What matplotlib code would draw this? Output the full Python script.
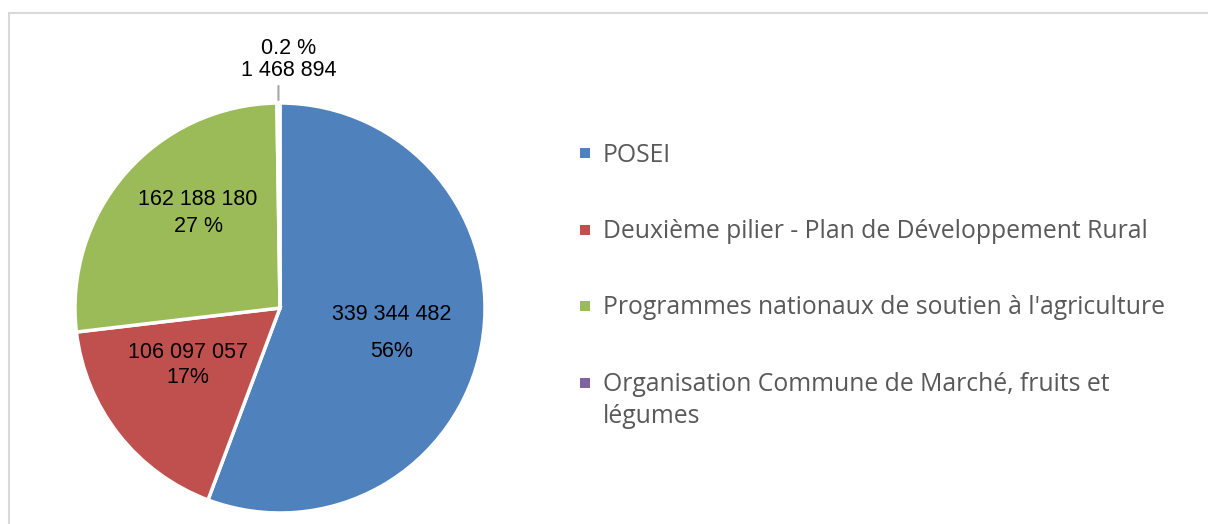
import matplotlib
matplotlib.use("Agg")
import matplotlib.pyplot as plt
from matplotlib.patches import Rectangle
import numpy as np

# ---- data ----
categories = [
    "POSEI",
    "Deuxième pilier - Plan de Développement Rural",
    "Programmes nationaux de soutien à l'agriculture",
    "Organisation Commune de Marché, fruits et\nlégumes",
]
values = [339344482, 106097057, 162188180, 1468894]
pct_labels = ["56%", "17%", "27 %", "0.2 %"]
colors = ["#4F81BD", "#C0504D", "#9BBB59", "#8064A2"]

W, H = 1208, 524
DPI = 100
fig = plt.figure(figsize=(W / DPI, H / DPI), dpi=DPI)

def fx(px):
    return px / W

def fy(py):
    return 1 - py / H

# border of chart area
fig.patches.append(Rectangle((fx(9), fy(560)), 1.2, fy(13) - fy(560), transform=fig.transFigure,
                             fill=False, edgecolor="#D9D9D9", linewidth=1.5))

# pie axes
cx, cy, R = 280, 308, 205
ax = fig.add_axes([fx(cx - R), fy(cy + R), 2 * R / W, 2 * R / H])
wedges, _ = ax.pie(values, colors=colors, startangle=90, counterclock=False,
                   radius=1, wedgeprops=dict(edgecolor="white", linewidth=2.5))
ax.set_xlim(-1, 1)
ax.set_ylim(-1, 1)
ax.set_aspect("equal")
ax.axis("off")

def fmt_num(v):
    return f"{v:,}".replace(",", " ")

label_font = dict(family=["Liberation Sans", "DejaVu Sans"], fontsize=15.5, color="black")
label_r = [0.56, 0.528, 0.612]
label_dang = [-2.3, -6.2, -8.0]
label_ls = [2.0, 1.25, 1.4]
for i in range(3):
    w = wedges[i]
    ang = np.deg2rad((w.theta1 + w.theta2) / 2 + label_dang[i])
    x, y = label_r[i] * np.cos(ang), label_r[i] * np.sin(ang)
    txt = fmt_num(values[i]) + "\n" + pct_labels[i]
    ax.text(x, y, txt, ha="center", va="center", linespacing=label_ls[i], **label_font)

# small slice: outside label with leader line
w = wedges[3]
ang = np.deg2rad((w.theta1 + w.theta2) / 2)
px = np.cos(ang)
ax.annotate("", xy=(px, 1.015), xytext=(px, 1.083),
            arrowprops=dict(arrowstyle="-", color="#A6A6A6", lw=1.5, shrinkA=0, shrinkB=0),
            annotation_clip=False)
ax.text(px + 10 / R, 1.105, pct_labels[3] + "\n" + fmt_num(values[3]),
        ha="center", va="bottom", linespacing=1.1, clip_on=False, **label_font)

# legend drawn manually
leg_x_sq, leg_x_txt = 580, 603
leg_y0, leg_dy = 153, 76.5
line_dy = 32
sq = 10
for i, (lab, col) in enumerate(zip(categories, colors)):
    y = leg_y0 + i * leg_dy
    fig.patches.append(Rectangle((fx(leg_x_sq), fy(y + sq / 2)), sq / W, sq / H,
                                 transform=fig.transFigure, facecolor=col, edgecolor="none"))
    for j, line in enumerate(lab.split("\n")):
        fig.text(fx(leg_x_txt), fy(y + 8.5 + j * line_dy), line, ha="left", va="baseline",
                 fontsize=17.8, color="#595959", family=["Open Sans", "DejaVu Sans"],
                 transform=fig.transFigure)

fig.savefig("out.png", dpi=DPI)
